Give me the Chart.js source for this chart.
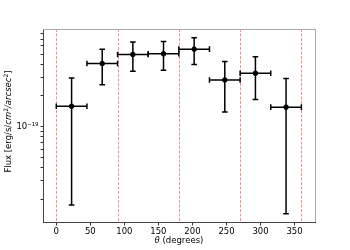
<!DOCTYPE html>
<html lang="en">
<head>
<meta charset="UTF-8">
<title>Flux vs theta</title>
<script src="https://cdn.jsdelivr.net/npm/chart.js"></script>
<style>
  html, body { margin: 0; padding: 0; background: #fff; }
  #wrap { width: 350px; height: 250px; }
</style>
</head>
<body>
<div id="wrap"><canvas id="fluxChart" width="350" height="250"></canvas></div>
<script>
// bin centres and half-widths (degrees)
const theta = [22.5, 67.5, 112.5, 157.5, 202.5, 247.5, 292.5, 337.5];
const thetaErr = [22.5, 22.5, 22.5, 22.5, 22.5, 22.5, 22.5, 22.5];
// flux and its error range (erg/s/cm^2/arcsec^2)
const flux = [1.57e-19, 4.06e-19, 4.97e-19, 5.04e-19, 5.59e-19, 2.82e-19, 3.27e-19, 1.54e-19];
const fluxLow = [1.75e-20, 2.54e-19, 3.42e-19, 3.50e-19, 3.97e-19, 1.38e-19, 1.83e-19, 1.44e-20];
const fluxHigh = [2.94e-19, 5.59e-19, 6.54e-19, 6.64e-19, 7.20e-19, 4.25e-19, 4.71e-19, 2.92e-19];
// vertical reference lines
const refLines = [0, 90, 180, 270, 360];
// axis ticks
const xTicks = [0, 50, 100, 150, 200, 250, 300, 350];
const yTicks = [2e-20, 3e-20, 4e-20, 5e-20, 6e-20, 7e-20, 8e-20, 9e-20,
                1e-19, 2e-19, 3e-19, 4e-19, 5e-19, 6e-19, 7e-19, 8e-19];

const FONT = '"DejaVu Sans", sans-serif';

const refLinePlugin = {
  id: 'refLines',
  beforeDatasetsDraw(chart) {
    const { ctx, chartArea, scales } = chart;
    ctx.save();
    ctx.lineWidth = 0.8;
    ctx.setLineDash([3, 1.5]);
    ctx.strokeStyle = 'rgba(240, 80, 80, 0.8)';
    refLines.forEach(v => {
      const x = Math.round(scales.x.getPixelForValue(v)) + 0.5;
      ctx.beginPath();
      ctx.moveTo(x, chartArea.top);
      ctx.lineTo(x, chartArea.bottom);
      ctx.stroke();
    });
    ctx.restore();
  }
};

const errorBarPlugin = {
  id: 'errorBars',
  afterDatasetsDraw(chart) {
    const { ctx, scales } = chart;
    const cap = 2.8;
    ctx.save();
    ctx.strokeStyle = '#000';
    ctx.lineWidth = 1.5;
    for (let i = 0; i < theta.length; i++) {
      const x = scales.x.getPixelForValue(theta[i]);
      const y = scales.y.getPixelForValue(flux[i]);
      const x0 = scales.x.getPixelForValue(theta[i] - thetaErr[i]);
      const x1 = scales.x.getPixelForValue(theta[i] + thetaErr[i]);
      const y0 = scales.y.getPixelForValue(fluxLow[i]);
      const y1 = scales.y.getPixelForValue(fluxHigh[i]);
      ctx.beginPath();
      ctx.moveTo(x0, y); ctx.lineTo(x1, y);
      ctx.moveTo(x, y0); ctx.lineTo(x, y1);
      ctx.moveTo(x0, y - cap); ctx.lineTo(x0, y + cap);
      ctx.moveTo(x1, y - cap); ctx.lineTo(x1, y + cap);
      ctx.moveTo(x - cap, y0); ctx.lineTo(x + cap, y0);
      ctx.moveTo(x - cap, y1); ctx.lineTo(x + cap, y1);
      ctx.stroke();
    }
    ctx.restore();
  }
};

const framePlugin = {
  id: 'frame',
  afterDraw(chart) {
    const { ctx, chartArea: a } = chart;
    ctx.save();
    ctx.lineWidth = 1;
    ctx.strokeStyle = '#aaaaaa';
    ctx.beginPath();
    ctx.moveTo(a.left, a.top + 0.5); ctx.lineTo(a.right, a.top + 0.5);
    ctx.moveTo(a.right + 0.5, a.top); ctx.lineTo(a.right + 0.5, a.bottom);
    ctx.stroke();

    // axis titles, with the math parts in italic
    ctx.fillStyle = '#000';
    ctx.textBaseline = 'middle';
    const xParts = [['θ', 'italic'], [' (degrees)', 'normal']];
    drawParts(ctx, xParts, (a.left + a.right) / 2, 241, 0, 8.5);

    ctx.translate(9, (a.top + a.bottom) / 2 - 4);
    ctx.rotate(-Math.PI / 2);
    const yParts = [['Flux [erg/s/', 'normal'], ['cm', 'italic'], ['2', 'sup'],
                    ['/arcsec', 'italic'], ['2', 'sup'], [']', 'normal']];
    drawParts(ctx, yParts, 0, 0, 0, 8.5);
    ctx.restore();
  }
};

function drawParts(ctx, parts, cx, cy, _r, size) {
  const fontOf = p => p[1] === 'sup' ? (size * 0.7) + 'px ' + FONT
    : (p[1] === 'italic' ? 'italic ' : '') + size + 'px ' + FONT;
  let total = 0;
  parts.forEach(p => { ctx.font = fontOf(p); total += ctx.measureText(p[0]).width; });
  let x = cx - total / 2;
  ctx.textAlign = 'left';
  parts.forEach(p => {
    ctx.font = fontOf(p);
    ctx.fillText(p[0], x, p[1] === 'sup' ? cy - size * 0.35 : cy);
    x += ctx.measureText(p[0]).width;
  });
}

new Chart(document.getElementById('fluxChart'), {
  type: 'scatter',
  data: {
    datasets: [{
      data: theta.map((t, i) => ({ x: t, y: flux[i] })),
      backgroundColor: '#000',
      borderColor: '#000',
      pointStyle: 'circle',
      pointRadius: 2.3,
      pointHoverRadius: 2.3
    }]
  },
  options: {
    responsive: false,
    animation: false,
    events: [],
    layout: { padding: { left: 0, right: 35, top: 29, bottom: 0 } },
    plugins: { legend: { display: false }, tooltip: { enabled: false } },
    scales: {
      x: {
        type: 'linear',
        min: -19.5,
        max: 380,
        afterBuildTicks: s => { s.ticks = xTicks.map(v => ({ value: v })); },
        afterFit: s => { s.height = 28; },
        grid: { drawOnChartArea: false, tickLength: 3.5, tickColor: '#333', color: '#333' },
        border: { color: '#444', width: 1 },
        ticks: { color: '#000', font: { family: FONT, size: 8.5 }, padding: 1, maxRotation: 0 }
      },
      y: {
        type: 'logarithmic',
        min: 1.2e-20,
        max: 8.75e-19,
        afterBuildTicks: s => { s.ticks = yTicks.map(v => ({ value: v })); },
        afterFit: s => { s.width = 43; },
        grid: { drawOnChartArea: false, tickLength: 2.5, tickColor: '#333', color: '#333' },
        border: { color: '#444', width: 1 },
        ticks: {
          color: '#000',
          font: { family: FONT, size: 8.5 },
          padding: 2,
          autoSkip: false,
          callback: v => Math.abs(Math.log10(v) + 19) < 1e-6 ? '10⁻¹⁹' : ''
        }
      }
    }
  },
  plugins: [refLinePlugin, errorBarPlugin, framePlugin]
});
</script>
</body>
</html>
